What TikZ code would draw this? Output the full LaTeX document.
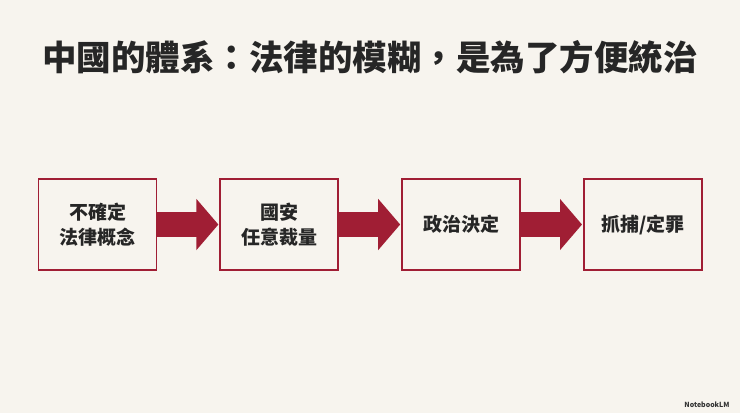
\documentclass[tikz,border=0pt]{standalone}
\usepackage{fontspec}
\setmainfont{Noto Sans CJK TC}
\usetikzlibrary{positioning, arrows.meta}
\definecolor{bg}{HTML}{F7F4EE}
\definecolor{wine}{HTML}{A01E34}
\begin{document}
\begin{tikzpicture}[x=1pt, y=-1pt,
  stepbox/.style={draw=wine, line width=1.8pt, fill=bg, minimum width=118pt, minimum height=91pt, align=center, font=\fontsize{19}{25}\selectfont\bfseries, text=black!85},
  flow/.style={wine, line width=25pt, -{Triangle[length=22pt, width=50pt]}, shorten >=1pt}]
\fill[bg] (0,0) rectangle (740,413);
\useasboundingbox (0,0) rectangle (740,413);
\node[font=\fontsize{34.5}{38}\selectfont\bfseries, text=black!85] (title) at (370,57) {中國的體系：法律的模糊，是為了方便統治};
\node[stepbox] (vague) at (97.5,224.5) {不確定\\法律概念};
\node[stepbox] (security) [right=62pt of vague] {國安\\任意裁量};
\node[stepbox] (politics) [right=62pt of security] {政治決定};
\node[stepbox] (arrest) [right=62pt of politics] {抓捕/定罪};
\draw[flow] (vague) -- (security);
\draw[flow] (security) -- (politics);
\draw[flow] (politics) -- (arrest);
\node[font=\fontsize{7}{8}\selectfont\bfseries, text=black!80, anchor=east] (brand) at (733,405) {NotebookLM};
\end{tikzpicture}
\end{document}
